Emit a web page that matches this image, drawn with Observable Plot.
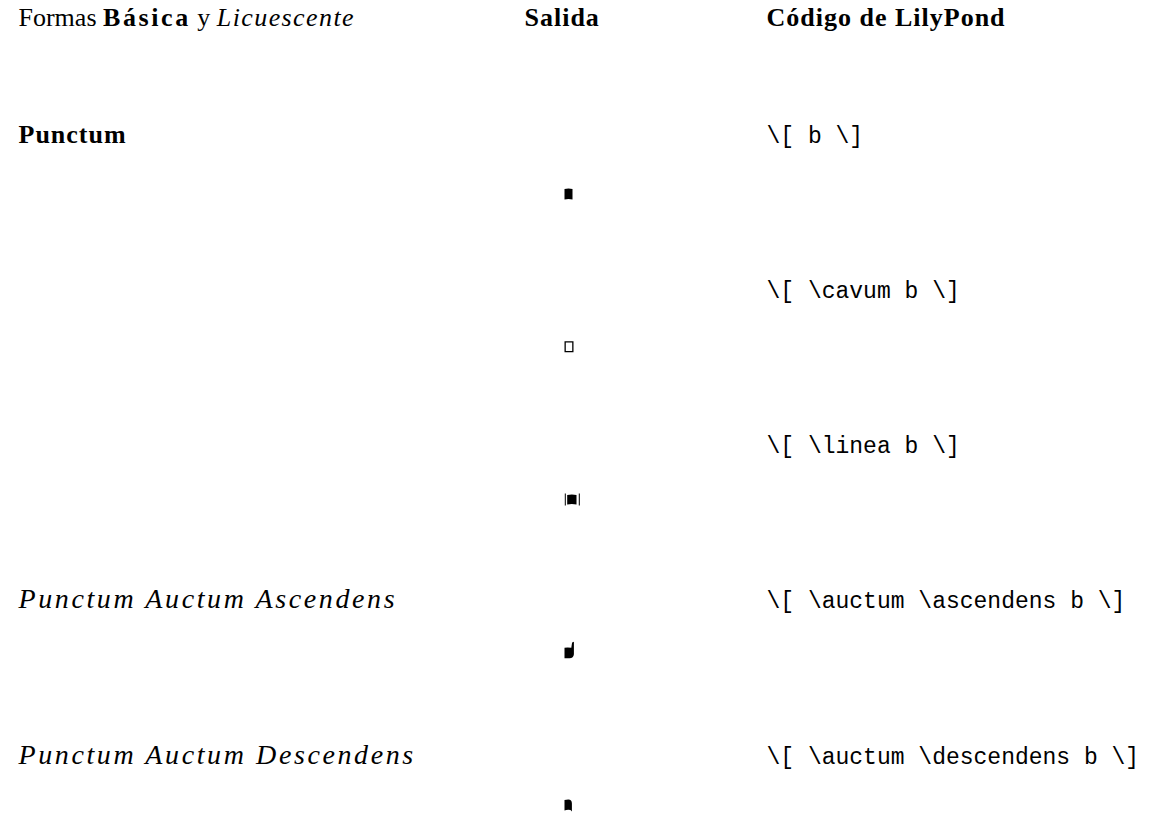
<!DOCTYPE html>
<html><head><meta charset="utf-8">
<script src="https://cdn.jsdelivr.net/npm/d3@7"></script>
<script src="https://cdn.jsdelivr.net/npm/@observablehq/plot@0.6"></script>
<style>
body{margin:0;background:#fff}
#chart{position:relative;width:1154px;height:818px}
#chart svg{position:absolute;left:0;top:0}
.bold-sp text{letter-spacing:1px}
.ital-sp text{letter-spacing:2.6px}
</style>
</head><body><div id="chart"></div>
<script>
// Column headers
const columnKeys = ["label", "output", "code"];
const columnTitles = ["Formas Básica y Licuescente", "Salida", "Código de LilyPond"];
// Rows
const rowLabels = ["Punctum", "", "", "Punctum Auctum Ascendens", "Punctum Auctum Descendens"];
const labelStyles = ["bold", "", "", "italic", "italic"];
const codes = ["\\[ b \\]", "\\[ \\cavum b \\]", "\\[ \\linea b \\]", "\\[ \\auctum \\ascendens b \\]", "\\[ \\auctum \\descendens b \\]"];
const glyphs = ["punctum", "cavum", "linea", "auctum ascendens", "auctum descendens"];

const rows = codes.map((code, i) => ({i, label: rowLabels[i], style: labelStyles[i], code, glyph: glyphs[i]}));
const header = columnKeys.map((col, j) => ({col, text: columnTitles[j]}));

const SERIF = "'Liberation Serif', 'DejaVu Serif', serif";
const MONO = "'Liberation Mono', 'DejaVu Sans Mono', monospace";
const SERIF_SIZE = 26;
const BOLD_SIZE = 26;
const ITAL_SIZE = 28;
const MONO_SIZE = 23;
const OUT_DX = 172;

// Square-notation neume glyphs drawn as custom symbols (origin: left edge, vertical centre)
const glyphSymbols = {
  "punctum": {draw(c) {
    c.moveTo(0, -5); c.quadraticCurveTo(4, -6, 8, -5); c.lineTo(8, 5.5);
    c.quadraticCurveTo(4, 4.5, 0, 5.5); c.closePath();
  }},
  "cavum": {draw(c) {
    c.moveTo(0, -5.5); c.lineTo(9, -5.5); c.lineTo(9, 5.5); c.lineTo(0, 5.5); c.closePath();
    c.moveTo(1.3, -4.2); c.lineTo(1.3, 4.2); c.lineTo(7.7, 4.2); c.lineTo(7.7, -4.2); c.closePath();
  }},
  "linea": {draw(c) {
    c.rect(0.3, -6, 1, 12);
    c.moveTo(2.7, -4.5); c.quadraticCurveTo(7.3, -5.3, 12, -4.5); c.lineTo(12, 5);
    c.quadraticCurveTo(7.3, 4.2, 2.7, 5); c.closePath();
    c.rect(14.3, -6, 1, 12);
  }},
  "auctum ascendens": {draw(c) {
    c.moveTo(0, -4.5); c.quadraticCurveTo(3, -5.2, 6.8, -4.5); c.lineTo(7.6, -9.8);
    c.lineTo(9.4, -10.4); c.lineTo(9.4, 2); c.quadraticCurveTo(9, 6, 5, 6);
    c.lineTo(0, 6); c.closePath();
  }},
  "auctum descendens": {draw(c) {
    c.moveTo(0, -5); c.lineTo(3.8, -5.6); c.quadraticCurveTo(7.4, -5.6, 7.4, -1.5);
    c.lineTo(7.4, 6.5); c.lineTo(6, 5); c.quadraticCurveTo(3, 4.2, 0, 5.5); c.closePath();
  }}
};

const xScale = {type: "point", domain: columnKeys, range: [18, 766], padding: 0, axis: null};

// Text layer (headers, row labels, LilyPond code)
const textPlot = Plot.plot({
  width: 1154,
  height: 818,
  margin: 0,
  x: xScale,
  y: {domain: [0, 4], range: [142, 763], axis: null},
  marks: [
    Plot.text(header.filter(d => d.col === "label"), {x: "col", frameAnchor: "top", text: "text", textAnchor: "start", lineAnchor: "bottom", dy: 25, fontFamily: SERIF, fontSize: SERIF_SIZE, fill: "black", className: "hdr0"}),
    Plot.text(header.filter(d => d.col === "output"), {x: "col", frameAnchor: "top", text: "text", textAnchor: "start", lineAnchor: "bottom", dy: 25, dx: OUT_DX - 40, fontFamily: SERIF, fontSize: BOLD_SIZE, fontWeight: "bold", fill: "black", className: "bold-sp"}),
    Plot.text(header.filter(d => d.col === "code"), {x: "col", frameAnchor: "top", text: "text", textAnchor: "start", lineAnchor: "bottom", dy: 25, fontFamily: SERIF, fontSize: BOLD_SIZE, fontWeight: "bold", fill: "black", className: "bold-sp"}),
    Plot.text(rows.filter(d => d.style === "bold"), {x: () => "label", y: "i", text: "label", textAnchor: "start", lineAnchor: "bottom", fontFamily: SERIF, fontSize: BOLD_SIZE, fontWeight: "bold", fill: "black", className: "bold-sp"}),
    Plot.text(rows.filter(d => d.style === "italic"), {x: () => "label", y: "i", text: "label", textAnchor: "start", lineAnchor: "bottom", fontFamily: SERIF, fontSize: ITAL_SIZE, fontStyle: "italic", fill: "black", className: "ital-sp"}),
    Plot.text(rows, {x: () => "code", y: "i", text: "code", textAnchor: "start", lineAnchor: "bottom", fontFamily: MONO, fontSize: MONO_SIZE, fill: "black"})
  ]
});

// Glyph layer (Salida column), with its own row scale
const glyphPlot = Plot.plot({
  width: 1154,
  height: 818,
  margin: 0,
  x: xScale,
  y: {domain: [0, 4], range: [193.5, 804.5], axis: null},
  marks: rows.map(r => Plot.dot([r], {x: () => "output", y: "i", symbol: glyphSymbols[r.glyph], dx: OUT_DX, fill: "black", stroke: "none"}))
});

// mixed-style header text
const t = textPlot.querySelector(".hdr0 text");
if (t) {
  t.textContent = "";
  t.setAttribute("style", "white-space:pre");
  const parts = [["Formas ", null], ["Básica", "bold"], [" y ", null], ["Licuescente", "italic"]];
  for (const [s, st] of parts) {
    const ts = document.createElementNS("http://www.w3.org/2000/svg", "tspan");
    ts.textContent = s;
    if (st === "bold") { ts.setAttribute("font-weight", "bold"); ts.setAttribute("letter-spacing", "2.6"); }
    if (st === "italic") { ts.setAttribute("font-style", "italic"); ts.setAttribute("letter-spacing", "1.4"); }
    t.appendChild(ts);
  }
}
glyphPlot.style.background = "transparent";
textPlot.style.background = "transparent";
document.getElementById("chart").appendChild(textPlot);
document.getElementById("chart").appendChild(glyphPlot);
</script>
</body></html>
